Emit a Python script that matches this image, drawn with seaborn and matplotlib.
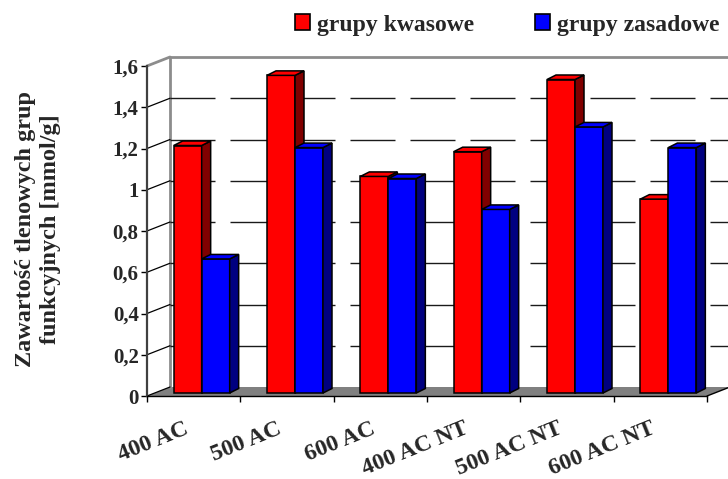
import numpy as np
import pandas as pd
import matplotlib
matplotlib.use("Agg")
import matplotlib.pyplot as plt
import seaborn as sns
from matplotlib.patches import Polygon, Patch
from matplotlib.lines import Line2D
from matplotlib.transforms import ScaledTranslation

# ---------------- data ----------------
categories = ["400 AC", "500 AC", "600 AC", "400 AC NT", "500 AC NT", "600 AC NT"]
series_names = ["grupy kwasowe", "grupy zasadowe"]
kwasowe = [1.20, 1.54, 1.05, 1.17, 1.52, 0.94]
zasadowe = [0.65, 1.19, 1.04, 0.89, 1.29, 1.19]
yticks = [0, 0.2, 0.4, 0.6, 0.8, 1.0, 1.2, 1.4, 1.6]
ylabel = "Zawartość tlenowych grup\nfunkcyjnych [mmol/g]"

# ---------------- style ----------------
front_colors = ["#FF0000", "#0000FF"]
side_colors = ["#800000", "#000080"]
top_colors = ["#FF0000", "#0000FF"]
FONT = "Liberation Serif"

sns.set_style("white")
plt.rcParams["font.family"] = [FONT, "DejaVu Serif"]
plt.rcParams["font.weight"] = "bold"

df = pd.DataFrame({
    "kategoria": categories * 2,
    "wartosc": kwasowe + zasadowe,
    "grupa": [series_names[0]] * len(categories) + [series_names[1]] * len(categories),
})

W_PX, H_PX = 728, 479
fig = plt.figure(figsize=(W_PX / 100, H_PX / 100), dpi=100)
ax = fig.add_axes([147 / W_PX, (H_PX - 396) / H_PX, (707 - 147) / W_PX, (396 - 66) / H_PX])

sns.barplot(data=df, x="kategoria", y="wartosc", hue="grupa", order=categories,
            hue_order=series_names, palette=front_colors, width=0.6,
            edgecolor="black", linewidth=1.1, saturation=1, ax=ax, legend=False,
            errorbar=None)

ax.set_xlim(-0.5, len(categories) - 0.5)
ax.set_ylim(0, yticks[-1])
ymax = yticks[-1]
xmin, xmax = ax.get_xlim()

# pixel -> data conversions
pos = ax.get_position()
ax_w = pos.width * W_PX
ax_h = pos.height * H_PX
ux = (xmax - xmin) / ax_w
uy = ymax / ax_h

WALL_DX, WALL_DY = 23 * ux, 9 * uy      # depth of the box
SHIFT_DX, SHIFT_DY = 8 * ux, 3 * uy     # where the bar row sits in depth
BAR_DX, BAR_DY = 9 * ux, 4.5 * uy       # depth of each bar

# floor
floor = Polygon([(xmin, 0), (xmax, 0), (xmax + WALL_DX, WALL_DY), (xmin + WALL_DX, WALL_DY)],
                closed=True, facecolor="#808080", edgecolor="none", zorder=0.5, clip_on=False)
ax.add_patch(floor)
ax.add_line(Line2D([xmax, xmax + WALL_DX], [0, WALL_DY], color="black", lw=1, zorder=0.6, clip_on=False))

# back wall edges
ax.add_line(Line2D([xmin + WALL_DX, xmin + WALL_DX], [WALL_DY, ymax + WALL_DY], color="#8c8c8c", lw=2,
                   zorder=0.7, clip_on=False))
ax.add_line(Line2D([xmin + WALL_DX, xmax + WALL_DX + 1], [ymax + WALL_DY, ymax + WALL_DY], color="#8c8c8c", lw=2,
                   zorder=0.7, clip_on=False))
ax.add_line(Line2D([xmin, xmin + WALL_DX], [ymax, ymax + WALL_DY], color="#8c8c8c", lw=2,
                   zorder=0.7, clip_on=False))

# gridlines on back wall + left wall diagonals
for v in yticks[1:-1]:
    ax.add_line(Line2D([xmin + WALL_DX, xmax + WALL_DX + 1], [v + WALL_DY, v + WALL_DY], color="#1a1a1a", lw=1,
                       dashes=(32.4, 10.8), zorder=0.8, clip_on=False))
for v in yticks[:-1]:
    ax.add_line(Line2D([xmin, xmin + WALL_DX], [v, v + WALL_DY], color="black", lw=0.9,
                       zorder=0.8, clip_on=False))

# bars: shift in depth and add 3D faces
bars = [p for p in ax.patches if p is not floor]
n = len(categories)
for i, p in enumerate(bars):
    s = i // n
    p.set_x(p.get_x() + SHIFT_DX)
    p.set_y(SHIFT_DY)
    p.set_zorder(3 + 0.2 * s)
    p.set_clip_on(False)
    x0 = p.get_x()
    x1 = x0 + p.get_width()
    y0 = p.get_y()
    y1 = y0 + p.get_height()
    side = Polygon([(x1, y0), (x1 + BAR_DX, y0 + BAR_DY), (x1 + BAR_DX, y1 + BAR_DY), (x1, y1)],
                   closed=True, facecolor=side_colors[s], edgecolor="black", lw=1.1,
                   joinstyle="miter", zorder=3.1 + 0.2 * s, clip_on=False)
    top = Polygon([(x0, y1), (x1, y1), (x1 + BAR_DX, y1 + BAR_DY), (x0 + BAR_DX, y1 + BAR_DY)],
                  closed=True, facecolor=top_colors[s], edgecolor="black", lw=1.1,
                  joinstyle="miter", zorder=3.1 + 0.2 * s, clip_on=False)
    ax.add_patch(side)
    ax.add_patch(top)

# axes decoration
for sp in ["top", "right"]:
    ax.spines[sp].set_visible(False)
ax.spines["left"].set_color("#404040")
ax.spines["left"].set_linewidth(1.6)
ax.spines["bottom"].set_color("black")
ax.spines["bottom"].set_linewidth(1.0)
ax.spines["left"].set_zorder(0.9)
ax.spines["bottom"].set_zorder(0.9)
ax.set_facecolor("none")

ax.set_yticks(yticks)
ax.set_yticklabels([f"{v:g}".replace(".", ",") for v in yticks])
ax.tick_params(axis="y", direction="out", length=4, width=1, color="black", pad=2,
               labelsize=15, left=True)
ax.set_xticks(range(n))
ax.set_xticks(np.arange(-0.5, n, 1.0), minor=True)
ax.tick_params(axis="x", which="major", length=0, pad=23, labelsize=17)
ax.tick_params(axis="x", which="minor", direction="out", length=4, width=1, color="black", bottom=True)
ax.set_xticklabels(categories, rotation=22, ha="right", va="center", rotation_mode="anchor")
off = ScaledTranslation(-0.06, 0, fig.dpi_scale_trans)
for lab in ax.get_xticklabels():
    lab.set_transform(lab.get_transform() + off)
for lab in ax.get_yticklabels() + ax.get_xticklabels():
    lab.set_fontweight("bold")
ax.set_xlabel("")
ax.set_ylabel("")
ax.grid(False)

fig.text(38 / W_PX, 1 - 229 / H_PX, ylabel, rotation=90, ha="center", va="center",
         multialignment="center", fontsize=17.5, fontweight="bold", linespacing=1.25)

handles = [Patch(facecolor=front_colors[0], edgecolor="black", lw=1.2),
           Patch(facecolor=front_colors[1], edgecolor="black", lw=1.2)]
fig.legend(handles, series_names, loc="center left", bbox_to_anchor=(295 / W_PX, 1 - 25 / H_PX),
           ncol=2, frameon=False, prop={"family": FONT, "weight": "bold", "size": 17},
           handlelength=0.63, handleheight=0.63, handletextpad=0.3, columnspacing=2.6,
           borderpad=0, borderaxespad=0)

fig.savefig("out.png", dpi=100)
